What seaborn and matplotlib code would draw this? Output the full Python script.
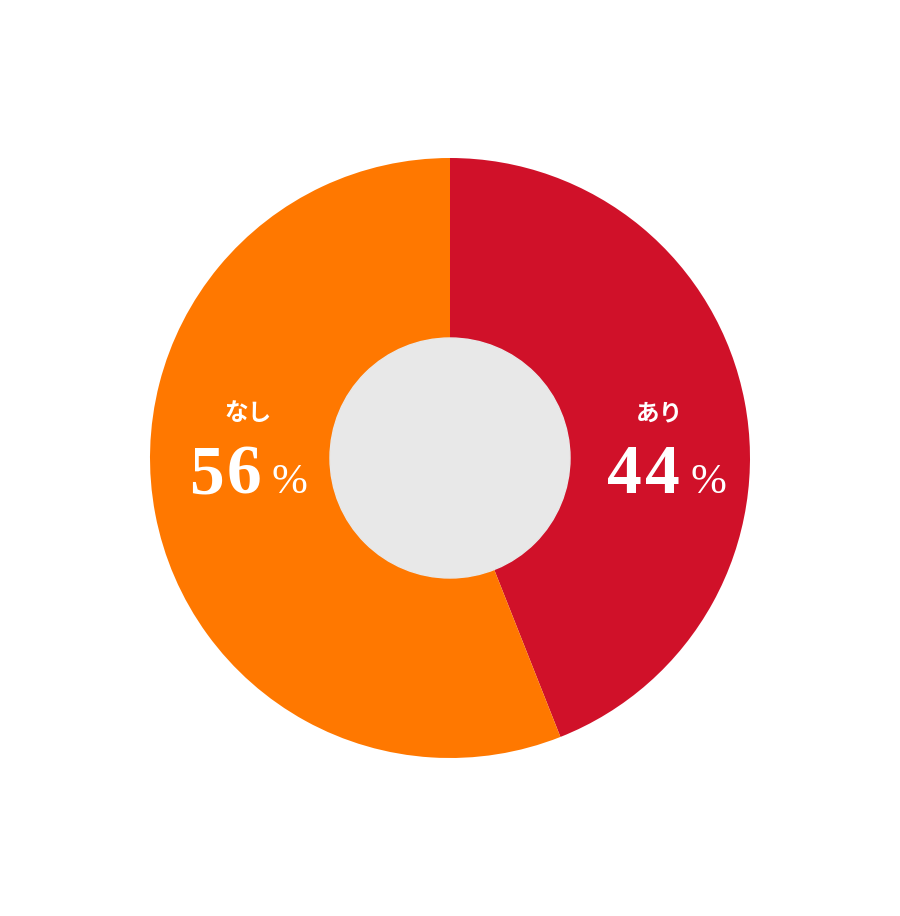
import seaborn as sns
import matplotlib.pyplot as plt
from matplotlib.patches import Circle

sns.set_theme(style="white")
plt.rcParams["font.family"] = ["Noto Sans CJK JP", "DejaVu Sans"]

labels = ["あり", "なし"]
shares = [44, 56]
colors = ["#d01129", "#ff7800"]

fig = plt.figure(figsize=(9, 9.16), dpi=100)
ax = fig.add_axes([0, 0, 1, 1])

ax.pie(
    shares,
    colors=colors,
    startangle=90,
    counterclock=False,
    radius=1.0,
    wedgeprops=dict(linewidth=0),
)
ax.set_xlim(-1.5, 1.5)
ax.set_ylim(-458 / 300, 458 / 300)
ax.set_aspect("equal")
ax.axis("off")
ax.add_patch(Circle((0, 0), 0.4, color="#e8e8e8", zorder=5))

# label x center, number right edge
spots = [(0.70, 0.765), (-0.673, -0.63)]
for (cx, nx), lab, val in zip(spots, labels, shares):
    ax.text(cx, 0.15, lab, color="white", fontsize=17, fontweight="bold",
            ha="center", va="center")
    # digits drawn one by one to get the wide spacing
    digits = str(val)
    for k, d in enumerate(reversed(digits)):
        ax.text(nx - k * 0.125, -0.117, d, color="white", fontsize=50,
                fontweight="bold", family="Liberation Serif",
                ha="right", va="baseline")
    ax.text(nx + 0.035, -0.117, "%", color="white", fontsize=31,
            family="Liberation Serif", ha="left", va="baseline")

fig.savefig("out.png", dpi=100)
